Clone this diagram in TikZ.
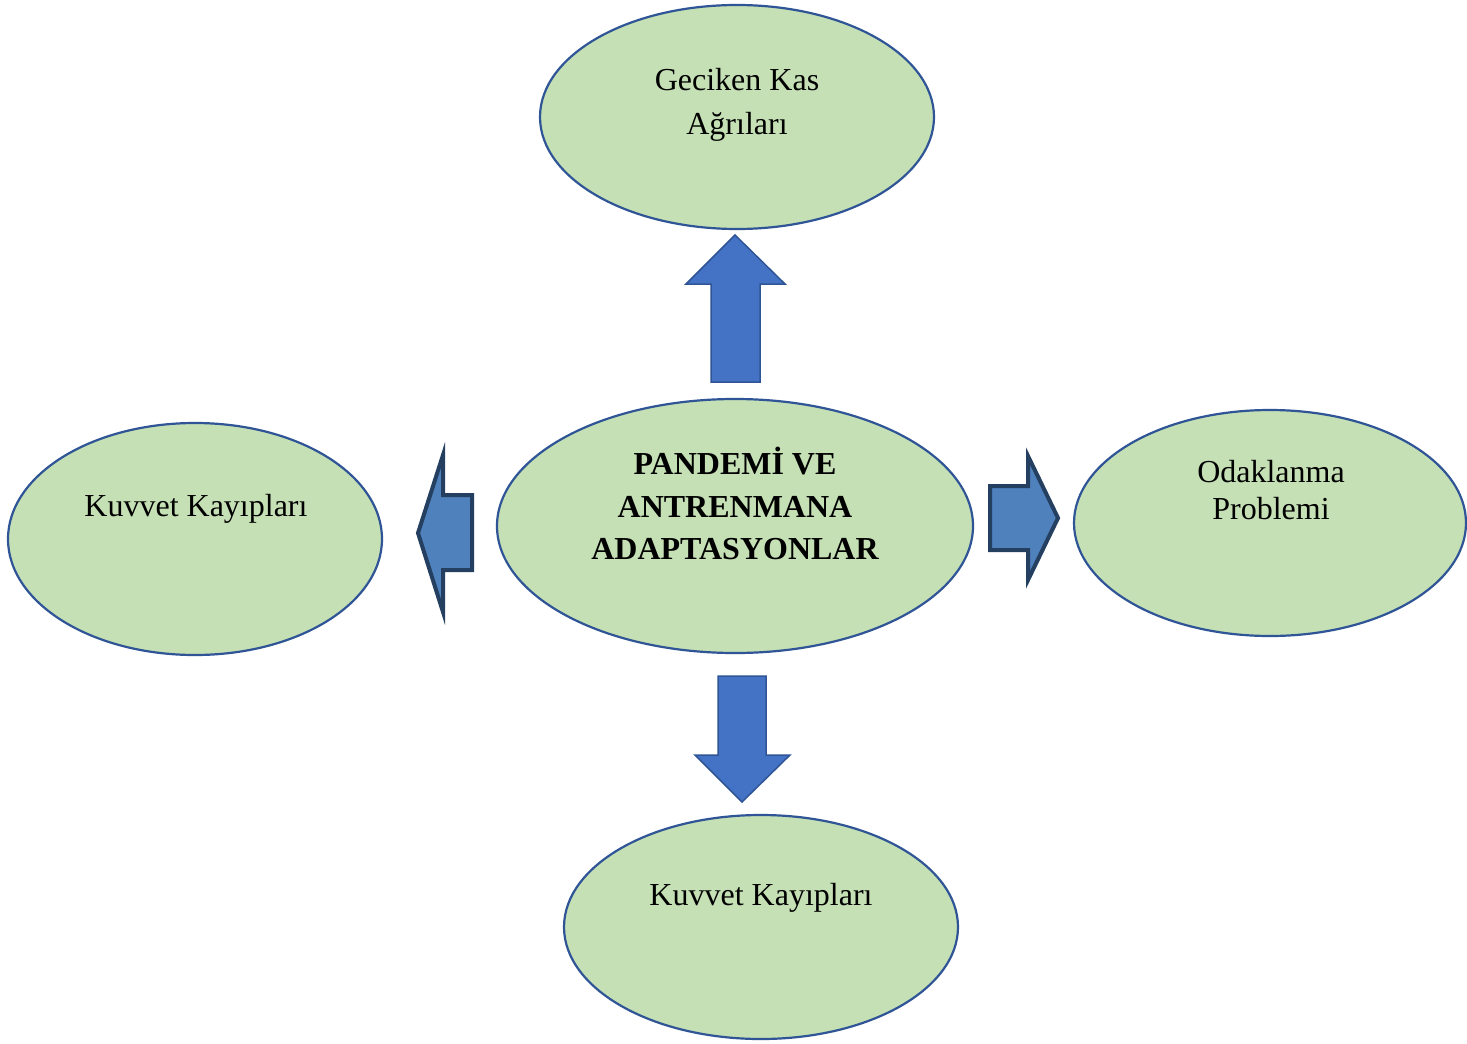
\documentclass[tikz,border=0pt]{standalone}
\usepackage{fontspec}
\setmainfont{Liberation Serif}
\begin{document}
\begin{tikzpicture}[x=1pt,y=-1pt,
  bubble/.style={draw=bubbleedge,fill=bubblefill,line width=2.2pt},
  lbl/.style={anchor=base,inner sep=0pt,font=\fontsize{32}{38}\selectfont},
  blbl/.style={lbl,font=\fontsize{32}{38}\selectfont\bfseries},
  vblock/.style={fill=vfill,draw=vedge,line width=1.5pt,line join=miter},
  hblock/.style={fill=hfill,draw=hedge,line width=4pt,line join=miter}]
\definecolor{bubblefill}{HTML}{C5E0B4}
\definecolor{bubbleedge}{HTML}{2F5597}
\definecolor{vfill}{HTML}{4472C4}
\definecolor{vedge}{HTML}{2F5597}
\definecolor{hfill}{HTML}{4F81BD}
\definecolor{hedge}{HTML}{243F60}
\useasboundingbox (0,0) rectangle (1467,1044);
\fill[white] (0,0) rectangle (1467,1044);

% ellipses
\draw[bubble] (737,117) ellipse [x radius=197, y radius=112];
\draw[bubble] (735,526) ellipse [x radius=238, y radius=127];
\draw[bubble] (195,539) ellipse [x radius=187, y radius=116];
\draw[bubble] (1270,523) ellipse [x radius=196, y radius=113];
\draw[bubble] (761,927) ellipse [x radius=197, y radius=112];

% labels
\node[lbl] (t1) at (737,90) {Geciken Kas};
\node[lbl] (t2) at (737,134) {Ağrıları};
\node[blbl] (c1) at (735,474) {PANDEMİ VE};
\node[blbl] (c2) at (735,517) {ANTRENMANA};
\node[blbl] (c3) at (735,559) {ADAPTASYONLAR};
\node[lbl] (l1) at (196,516) {Kuvvet Kayıpları};
\node[lbl] (r1) at (1271,482) {Odaklanma};
\node[lbl] (r2) at (1271,519) {Problemi};
\node[lbl] (b1) at (761,905) {Kuvvet Kayıpları};

% block arrows
\draw[vblock] (711,382) -- (711,284) -- (686,284) -- (735,235) -- (785,284) -- (760,284) -- (760,382) -- cycle;
\draw[vblock] (718,676) -- (766,676) -- (766,755) -- (790,755) -- (742,802) -- (695,755) -- (718,755) -- cycle;
\draw[hblock] (472,495) -- (443,495) -- (443,455) -- (418,533) -- (443,612) -- (443,570) -- (472,570) -- cycle;
\draw[hblock] (990,486) -- (1028,486) -- (1028,456) -- (1058,518) -- (1028,580) -- (1028,550) -- (990,550) -- cycle;
\end{tikzpicture}
\end{document}
